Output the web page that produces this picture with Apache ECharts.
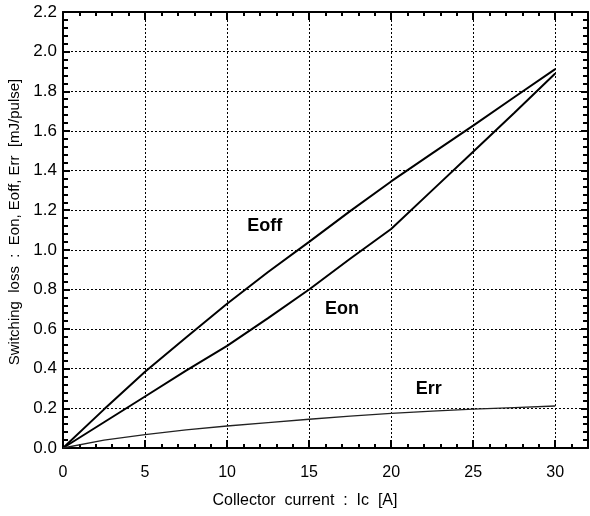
<!DOCTYPE html>
<html><head><meta charset="utf-8">
<script src="https://cdn.jsdelivr.net/npm/echarts@6/dist/echarts.min.js"></script>
<style>html,body{margin:0;padding:0;background:#fff}#c{width:590px;height:516px}</style>
</head><body><div id="c"></div>
<script>
// Collector current Ic [A]
const currentA = [0, 2.5, 5, 7.5, 10, 12.5, 15, 17.5, 20, 22.5, 25, 27.5, 30];
// Switching losses [mJ/pulse]
const eoffValues = [0, 0.195, 0.385, 0.558, 0.728, 0.888, 1.04, 1.195, 1.345, 1.487, 1.627, 1.77, 1.912];
const eonValues  = [0, 0.13, 0.26, 0.39, 0.515, 0.655, 0.80, 0.955, 1.105, 1.30, 1.495, 1.69, 1.89];
const errValues  = [0, 0.04, 0.067, 0.091, 0.111, 0.128, 0.145, 0.161, 0.175, 0.186, 0.196, 0.204, 0.212];
// Curve labels placed in data coordinates
const curveNames = ['Eoff', 'Eon', 'Err'];
const curveLabelX = [12.3, 17.0, 22.3];
const curveLabelY = [1.12, 0.70, 0.30];
const xAxisTitle = 'Collector  current  :  Ic  [A]';
const yAxisTitle = 'Switching  loss  :  Eon, Eoff, Err  [mJ/pulse]';

const FONT = '"Liberation Sans", Arial, sans-serif';
const pair = (xs, ys) => xs.map((x, i) => [x, ys[i]]);

const chart = echarts.init(document.getElementById('c'), null, {renderer: 'canvas'});
const baseX = {
  type: 'value', min: 0, max: 32, interval: 5, gridIndex: 0,
  axisLine: {show: true, onZero: false, lineStyle: {color: '#000', width: 2}},
  axisTick: {show: true, inside: true, length: 8, lineStyle: {color: '#000', width: 2}},
  axisLabel: {show: false},
  splitLine: {show: false}
};
const fineX = {
  type: 'value', min: 0, max: 32, interval: 1, gridIndex: 0,
  axisLine: {show: false, onZero: false},
  axisTick: {show: true, inside: true, length: 4, lineStyle: {color: '#000', width: 2}},
  axisLabel: {show: false},
  splitLine: {show: false}
};
const baseY = {
  type: 'value', min: 0, max: 2.2, interval: 0.2, gridIndex: 0,
  axisLine: {show: true, onZero: false, lineStyle: {color: '#000', width: 2}},
  axisTick: {show: true, inside: true, length: 7, lineStyle: {color: '#000', width: 2}},
  minorTick: {show: true, splitNumber: 5, length: 5, lineStyle: {color: '#000', width: 2}},
  axisLabel: {show: false},
  splitLine: {show: false}
};

chart.setOption({
  animation: false,
  backgroundColor: '#fff',
  grid: {left: 63, right: 2, top: 12, bottom: 68, containLabel: false},
  xAxis: [
    Object.assign({}, baseX, {
      position: 'bottom',
      axisLabel: {show: true, showMaxLabel: false, margin: 17, color: '#000', fontSize: 16, fontFamily: FONT},
      splitLine: {show: true, lineStyle: {color: '#000', width: 1, type: [2, 2]}}
    }),
    Object.assign({}, fineX, {position: 'bottom'}),
    Object.assign({}, baseX, {position: 'top'}),
    Object.assign({}, fineX, {position: 'top'})
  ],
  yAxis: [
    Object.assign({}, baseY, {
      position: 'left',
      axisLabel: {show: true, margin: 6, color: '#000', fontSize: 17, fontFamily: FONT,
        formatter: v => v.toFixed(1)},
      splitLine: {show: true, lineStyle: {color: '#000', width: 1, type: [2, 2]}}
    }),
    Object.assign({}, baseY, {position: 'right'})
  ],
  series: [
    {type: 'line', name: 'Eoff', xAxisIndex: 0, yAxisIndex: 0, data: pair(currentA, eoffValues),
      showSymbol: false, symbol: 'none', lineStyle: {color: '#000', width: 2}},
    {type: 'line', name: 'Eon', xAxisIndex: 0, yAxisIndex: 0, data: pair(currentA, eonValues),
      showSymbol: false, symbol: 'none', lineStyle: {color: '#000', width: 2}},
    {type: 'line', name: 'Err', xAxisIndex: 0, yAxisIndex: 0, data: pair(currentA, errValues),
      showSymbol: false, symbol: 'none', lineStyle: {color: '#222', width: 1.3}}
  ],
  graphic: [
    {type: 'text', x: 305, y: 501, silent: true,
      style: {text: xAxisTitle, font: '16px ' + FONT, fill: '#000', textAlign: 'center', textVerticalAlign: 'middle'}},
    {type: 'text', x: 15, y: 222, rotation: Math.PI / 2, silent: true,
      style: {text: yAxisTitle, font: '15px ' + FONT, fill: '#000', textAlign: 'center', textVerticalAlign: 'middle'}}
  ]
});

// Curve name labels, positioned through the chart's own scales
const labelGraphics = curveNames.map((n, i) => {
  const p = chart.convertToPixel({xAxisIndex: 0, yAxisIndex: 0}, [curveLabelX[i], curveLabelY[i]]);
  return {type: 'text', x: p[0], y: p[1], silent: true,
    style: {text: n, font: 'bold 18px ' + FONT, fill: '#000', textAlign: 'center', textVerticalAlign: 'middle'}};
});
chart.setOption({graphic: labelGraphics.map((g, i) => Object.assign({id: 'lbl' + i}, g))});
</script>
</body></html>
